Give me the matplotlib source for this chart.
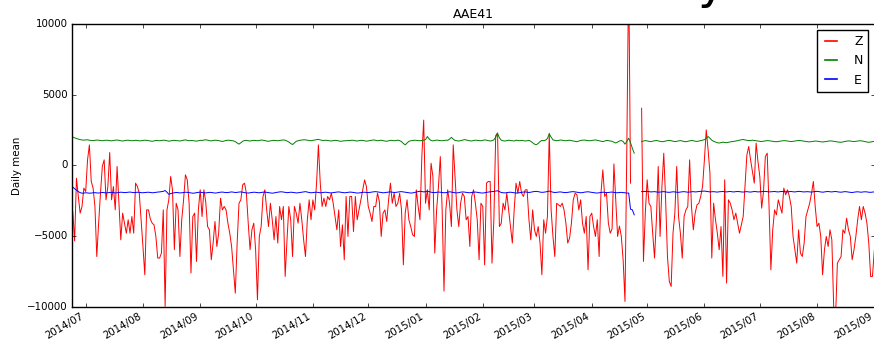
import numpy as np
import pandas as pd
import matplotlib
matplotlib.use("Agg")
import matplotlib.pyplot as plt
import matplotlib.dates as mdates

# --- daily means (counts) ---
# first block: 2014-06-24 .. 2015-04-24, second block: 2015-04-28 .. 2015-09-01
z_before = [
    -3260, -5340, -910, -2200, -3380, -2910, -1610, -1850, 390, 1450,
    -1140, -1610, -2910, -6450, -4100, -1970, -80, 390, -2440, -1500,
    910, -2440, -1500, -3150, -80, -2680, -5270, -3380, -4090, -4800,
    -3850, -4800, -3620, -4800, -1260, -1500, -1970, -3850, -5740, -7740,
    -3150, -3150, -3800, -4090, -4210, -5030, -6560, -6560, -6210, -3150,
    -9980, -3150, -2440, -790, -1730, -5970, -2680, -3150, -6450, -3850,
    -2440, -670, -1030, -2680, -7620, -3620, -3380, -6800, -3150, -1730,
    -3620, -1730, -2600,
    -4330, -4560, -6680, -5500, -3970, -5740, -4800, -2320, -3150, -2910,
    -3150, -4090, -4800, -5740, -7390, -9040, -5500, -2680, -2440, -1380,
    -1260, -1970, -4090, -5970, -4560, -4090, -5970, -9510, -5030, -4330,
    -2200, -1730, -3150, -4330, -2680, -3850, -5270, -3620, -5500, -2910,
    -3850, -2910, -7860, -5270, -2910, -3850, -6450, -2910, -3380, -4090,
    -2680, -3850, -5270, -6450, -3850, -2440, -3850, -2440, -3150, -1260,
    1450, -1260, -2910, -2320, -2910, -2200, -2440, -1970, -2680, -3620,
    -4560, -3150,
    -5740, -4210, -6680, -2200, -5030, -2200, -2200, -4680, -2200, -3850,
    -3150, -2440, -1730, -1030, -1500, -2910, -3380, -3970, -2910, -2910,
    -1970, -2560, -5030, -3380, -3150, -3970, -2440, -1260, -2680, -1970,
    -2910, -2680, -1970, -3150, -7040, -3380, -2440, -3850, -4330, -4910,
    -5030, -1730, -2910, -3850, 620, 3200, -2680, -1730, -3150, 150,
    -790, -6210, -3150, -1500, 620, -3150, -8900, -3150, -1730, -2680,
    -4330, 1450, -790, -3150, -4330, -2680, -1970, -2200, -3850, -3620,
    -5740, -2200, -1730,
    -2680, -3850, -6680, -2680, -2910, -7040, -1260, -1140, -1140, -6920,
    -3850, 2100, 2300, -4330, -4090, -2680, -3150, -1970, -3150, -4330,
    -5500, -3150, -1260, -1970, -1140, -1970, -2200, -1730, -1730, -3850,
    -5270, -3150, -4560, -5030, -4330, -5500, -7740, -3850, -4800, -3620,
    2270, -3150, -5030, -6450, -2680, -2790, -2910, -2680, -3150, -4090,
    -5500, -5150, -4090, -2440, -1970, -2090, -3150, -2440, -4090, -4800,
    -3620, -7390, -3620, -3380, -4330, -5030, -3850, -6450, -1970, -320,
    -2200, -1970,
    -4090, -4800, -4500, 100, -2400, -5030, -4300, -5000, -6700, -9630,
    1300, 14000, -1260, np.nan, np.nan,
]
z_after = [
    4040, -6800, -3380, -1020, -2680, -2910, -4800, -6560, -3850, -80,
    -5030, -1500, 860, -2440, -6450, -8210, -8570, -4800, -3380, -80,
    -3620, -4800, -6560, -3620, -3150, -2910, 390, -2910, -4560, -3380,
    -2790, -2680, -2200, -1500, 390, 2510, 1100, -550, -6560, -2680,
    -3850, -4800, -5970, -4330, -7860, -1020, -8330, -2440, -2680, -3150,
    -3850, -3380, -4090, -4800,
    -4210, -3620, -1500, 740, 1330, 390, -440, -1260, 1570, 270,
    -790, -3030, -1850, 620, 860, -2910, -7390, -4560, -3150, -3500,
    -2440, -2910, -3380, -1610, -2090, -1730, -2200, -2910, -5030, -5970,
    -6920, -4560, -6210, -6450, -5500, -3620, -3150, -2680, -1970, -1140,
    -2910, -4330, -4090, -5030, -7740, -5970, -5030, -5740, -4560, -5270,
    -9980, -10800, -6920, -6680, -6450, -4560, -4800, -3740, -4560, -5030,
    -6680, -5970, -5030, -3850, -2910, -3850, -2910, -3380, -4090, -5500,
    -7860, -7860, -6000,
]

n_before = [
    2000, 1950, 1900, 1860, 1820, 1800, 1780, 1800, 1810, 1780, 1760, 1750, 1770, 1790, 1780, 1760, 1740, 1760, 1780, 1770,
    1750, 1730, 1760, 1780, 1790, 1770, 1740, 1720, 1750, 1770, 1780, 1760, 1740, 1750, 1770, 1760, 1730, 1740, 1760, 1780,
    1770, 1750, 1720, 1700, 1730, 1760, 1750, 1740, 1760, 1780, 1770, 1740, 1710, 1730, 1760, 1770, 1750, 1740, 1720, 1750,
    1780, 1800, 1770, 1740, 1760, 1750, 1730, 1710, 1740, 1770, 1760, 1790, 1810, 1780, 1750, 1730, 1760, 1780, 1770, 1750,
    1720, 1690, 1720, 1760, 1780, 1770, 1750, 1730, 1680, 1580, 1500, 1600, 1700, 1760, 1770, 1740, 1720, 1750, 1770, 1760,
    1740, 1760, 1790, 1780, 1750, 1720, 1700, 1730, 1760, 1770, 1750, 1740, 1760, 1780, 1800, 1780, 1720, 1650, 1550, 1470,
    1580, 1700, 1740, 1770, 1790, 1810, 1800, 1780, 1760, 1740, 1770, 1790, 1820, 1840, 1800, 1770, 1760, 1780, 1760, 1740,
    1720, 1750, 1770, 1760, 1730, 1700, 1720, 1740, 1740, 1760, 1750, 1780, 1770, 1740, 1720, 1750, 1770, 1760, 1740, 1710,
    1730, 1760, 1780, 1800, 1770, 1740, 1760, 1780, 1750, 1720, 1700, 1740, 1770, 1760, 1740, 1760, 1780, 1750, 1680, 1550,
    1450, 1580, 1700, 1740, 1760, 1780, 1770, 1750, 1740, 1760, 1780, 1820, 2040, 1860, 1760, 1730, 1760, 1790, 1770, 1750,
    1740, 1760, 1780, 1770, 1850, 1980, 1860, 1760, 1740, 1720, 1750, 1780, 1820, 1800, 1760, 1740, 1720, 1760, 1780, 1770,
    1750, 1740, 1770, 1800, 1780, 1750, 1720, 1750, 1800, 2000, 2260, 1950, 1780, 1740, 1720, 1750, 1780, 1760, 1740, 1720,
    1780, 1760, 1740, 1770, 1750, 1720, 1740, 1770, 1700, 1600, 1500, 1460, 1550, 1680, 1760, 1750, 1780, 1900, 2220, 2000,
    1800, 1770, 1740, 1760, 1790, 1780, 1750, 1740, 1760, 1780, 1750, 1720, 1700, 1670, 1720, 1760, 1780, 1790, 1770, 1750,
    1740, 1760, 1780, 1800, 1770, 1740, 1710, 1680, 1720, 1760, 1750, 1720, 1700, 1640, 1580, 1650, 1720, 1760, 1680, 1500,
    1700, 1920, 1600, 1200, 860,
]
n_after = [
    1680, 1720, 1750, 1730, 1700, 1680, 1710, 1740, 1760, 1730, 1700, 1670, 1690, 1720, 1750, 1770, 1740, 1710, 1680, 1700,
    1730, 1750, 1720, 1690, 1670, 1700, 1730, 1760, 1740, 1710, 1690, 1720, 1750, 1780, 1820, 1900, 2040, 1920, 1780, 1700,
    1650, 1600, 1580, 1610, 1640, 1620, 1600, 1630, 1660, 1680, 1700, 1720, 1750, 1780, 1810, 1830, 1800, 1770, 1750, 1760,
    1780, 1760, 1740, 1720, 1700, 1680, 1710, 1730, 1750, 1740, 1720, 1700, 1680, 1670, 1690, 1710, 1730, 1750, 1740, 1720,
    1700, 1680, 1700, 1720, 1740, 1760, 1750, 1730, 1710, 1690, 1670, 1660, 1680, 1700, 1720, 1710, 1690, 1670, 1650, 1670,
    1690, 1710, 1730, 1720, 1700, 1680, 1660, 1640, 1630, 1660, 1690, 1710, 1730, 1720, 1700, 1680, 1700, 1720, 1740, 1730,
    1710, 1680, 1650, 1630, 1650, 1680, 1700,
]

e_before = [
    -1540, -1650, -1760, -1860, -1930, -1970, -1960, -1940, -1950, -1970, -1960, -1940, -1930, -1950, -1960, -1940, -1920, -1930, -1950, -1940,
    -1920, -1910, -1930, -1950, -1940, -1920, -1900, -1910, -1930, -1920, -1900, -1890, -1910, -1930, -1920, -1900, -1910, -1930, -1940, -1920,
    -1910, -1900, -1920, -1940, -1930, -1910, -1890, -1880, -1860, -1840, -1780, -1900, -2050, -2000, -1960, -1940, -1920, -1930, -1950, -1940,
    -1920, -1900, -1910, -1930, -1950, -1970, -1960, -1930, -1910, -1900, -1920, -1940, -1950, -1930, -1910, -1920, -1940, -1960, -1950, -1920,
    -1900, -1890, -1910, -1930, -1920, -1900, -1880, -1900, -1920, -1910, -1890, -1880, -1900, -1930, -1950, -1960, -1940, -1920, -1900, -1910,
    -1930, -1940, -1920, -1900, -1890, -1910, -1930, -1950, -1970, -1950, -1920, -1900, -1880, -1870, -1890, -1910, -1930, -1920, -1900, -1910,
    -1930, -1950, -1940, -1920, -1900, -1880, -1860, -1890, -1920, -1940, -1930, -1910, -1900, -1920, -1940, -1930, -1910, -1900, -1920, -1940,
    -1950, -1930, -1910, -1890, -1880, -1900, -1920, -1940, -1930, -1910, -1890, -1900, -1920, -1940, -1960, -1950, -1930, -1910, -1900, -1920,
    -1930, -1910, -1890, -1870, -1860, -1880, -1900, -1920, -1940, -1930, -1910, -1890, -1880, -1900, -1920, -1910, -1890, -1870, -1860, -1880,
    -1900, -1920, -1940, -1960, -1950, -1920, -1890, -1860, -1830, -1850, -1880, -1860, -1820, -1860, -1900, -1920, -1930, -1910, -1890, -1900,
    -1920, -1940, -1930, -1900, -1870, -1890, -1920, -1940, -1950, -1930, -1900, -1880, -1890, -1910, -1930, -1940, -1920, -1900, -1890, -1910,
    -1930, -1950, -1960, -1940, -1910, -1890, -1870, -1860, -1840, -1820, -1800, -1860, -1920, -1940, -1950, -1930, -1910, -1900, -1920, -1940,
    -1960, -1950, -1930, -1910, -1890, -1880, -1900, -1920, -1900, -1870, -1850, -1840, -1860, -1890, -1910, -1900, -1880, -1850, -1820, -1860,
    -1900, -1920, -1910, -1890, -1880, -1900, -1920, -1930, -1910, -1890, -1870, -1860, -1880, -1900, -1920, -1940, -1930, -1900, -1880, -1870,
    -1890, -1910, -1930, -1950, -1960, -1940, -1920, -1900, -1910, -1930, -1920, -1900, -1890, -1910, -1930, -1940, -1920, -1910, -1930, -1940,
    -1960, -1960, -3100, -3150, -3500,
]
e_after = [
    -1860, -1850, -1840, -1850, -1860, -1880, -1870, -1860, -1880, -1900, -1890, -1870, -1860, -1880, -1900, -1910, -1890, -1870, -1880, -1900,
    -1910, -1890, -1870, -1860, -1880, -1900, -1890, -1870, -1860, -1880, -1870, -1850, -1840, -1830, -1820, -1840, -1860, -1880, -1870, -1860,
    -1880, -1890, -1870, -1860, -1850, -1870, -1880, -1860, -1850, -1870, -1880, -1860, -1850, -1860, -1880, -1890, -1870, -1860, -1880, -1890,
    -1870, -1850, -1860, -1880, -1870, -1860, -1850, -1840, -1860, -1880, -1870, -1860, -1850, -1870, -1880, -1860, -1850, -1860, -1870, -1880,
    -1860, -1850, -1870, -1880, -1860, -1840, -1850, -1870, -1880, -1870, -1860, -1880, -1890, -1870, -1850, -1840, -1860, -1880, -1900, -1880,
    -1860, -1850, -1870, -1880, -1860, -1850, -1870, -1890, -1900, -1880, -1860, -1870, -1890, -1910, -1920, -1900, -1880, -1870, -1890, -1900,
    -1880, -1870, -1880, -1900, -1910, -1890, -1880,
]

COMPONENTS = ["Z", "N", "E"]
COLORS     = ["r", "g", "b"]


def join_blocks(before, after):
    # one NaN day inside the data gap so each trace is drawn as a single line
    dates = (list(pd.date_range("2014-06-24", periods=len(before)))
             + [pd.Timestamp("2015-04-26")]
             + list(pd.date_range("2015-04-28", periods=len(after))))
    values = list(before) + [np.nan] + list(after)
    return pd.Series(values, index=dates, dtype=float)


if __name__ == "__main__":
    plt.style.use("classic")

    series = [join_blocks(z_before, z_after),
              join_blocks(n_before, n_after),
              join_blocks(e_before, e_after)]

    fig = plt.figure(figsize=(8.74, 3.43), dpi=100)
    ax = fig.add_axes([72 / 874, 1 - 306.7 / 343, 802.7 / 874, 282.7 / 343])

    for s, name, col in zip(series, COMPONENTS, COLORS):
        ax.plot(s.index, s.values, color=col, linewidth=0.7, label=name)

    ax.set_xlim(pd.Timestamp("2014-06-23 14:00"), pd.Timestamp("2015-09-01 05:00"))
    ax.set_ylim(-10000, 10000)
    ax.set_yticks([-10000, -5000, 0, 5000, 10000])
    ax.xaxis.set_major_locator(mdates.MonthLocator())
    ax.xaxis.set_major_formatter(mdates.DateFormatter("%Y/%m"))
    ax.tick_params(which="major", length=3, labelsize=7.4, pad=3)
    for lbl in ax.get_xticklabels():
        lbl.set_rotation(30)
        lbl.set_ha("right")

    ax.set_title("AAE41", fontsize=9, pad=4)
    ax.set_ylabel("Daily mean", fontsize=7.4, labelpad=4)
    leg = ax.legend(loc="upper right", fontsize=9, handlelength=1.5,
                    handletextpad=1.1, borderaxespad=0.5)
    for line in leg.get_lines():
        line.set_linewidth(1.2)

    # only the descender of the cut-off figure heading shows above the plot
    fig.text(712 / 874, 1 + 2.5 / 343, "y", fontsize=34, ha="center", va="baseline")

    fig.savefig("out.png", dpi=100)
